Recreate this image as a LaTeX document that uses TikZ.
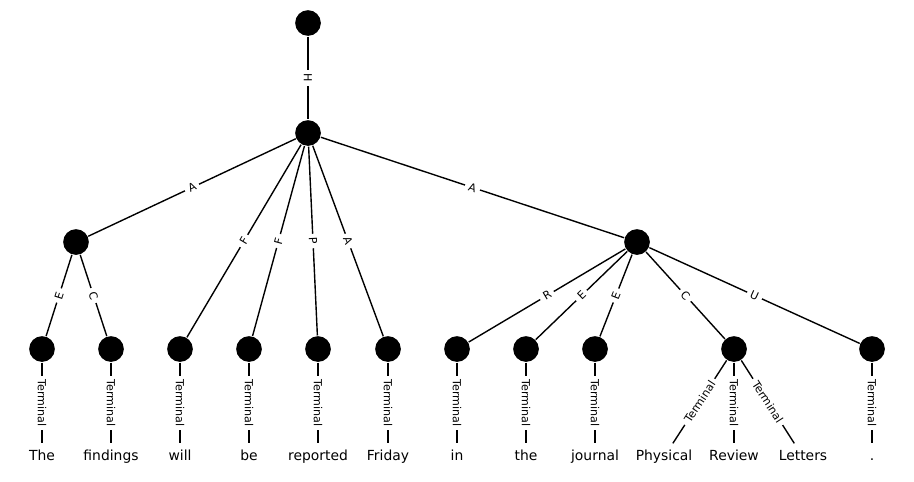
\documentclass[tikz,border=0pt]{standalone}
\usepackage{fontspec}
\setmainfont{DejaVu Sans}
\tikzset{
  vertex/.style={circle, fill=black, minimum size=18.5pt, inner sep=0pt},
  word/.style={font=\fontsize{10}{12}\selectfont, text height=7.5pt, text depth=2pt, inner xsep=2pt, inner ysep=4.6pt},
  tag/.style={font=\fontsize{8}{9.6}\selectfont, fill=white, inner xsep=2.8pt, inner ysep=0.5pt, sloped, midway},
}
\begin{document}
\begin{tikzpicture}[x=0.72pt, y=-0.72pt, line width=1pt]
  \useasboundingbox (0, 0) rectangle (914, 481);
  % Nodes
  \node (root) [vertex] at (308, 23) {};
  \node (clause) [vertex] at (308, 133) {};
  \node (part-0) [vertex] at (76, 242) {};
  \node (part-1) [vertex] at (637, 242) {};
  \node (leaf-0) [vertex] at (42, 349) {};
  \node (leaf-1) [vertex] at (111, 349) {};
  \node (leaf-2) [vertex] at (180, 349) {};
  \node (leaf-3) [vertex] at (249, 349) {};
  \node (leaf-4) [vertex] at (318, 349) {};
  \node (leaf-5) [vertex] at (388, 349) {};
  \node (leaf-6) [vertex] at (457, 349) {};
  \node (leaf-7) [vertex] at (526, 349) {};
  \node (leaf-8) [vertex] at (595, 349) {};
  \node (leaf-9) [vertex] at (734, 349) {};
  \node (leaf-10) [vertex] at (872, 349) {};
  % Words
  \node (word-0) [word] at (42, 457) {The};
  \node (word-1) [word] at (111, 457) {findings};
  \node (word-2) [word] at (180, 457) {will};
  \node (word-3) [word] at (249, 457) {be};
  \node (word-4) [word] at (318, 457) {reported};
  \node (word-5) [word] at (388, 457) {Friday};
  \node (word-6) [word] at (457, 457) {in};
  \node (word-7) [word] at (526, 457) {the};
  \node (word-8) [word] at (595, 457) {journal};
  \node (word-9) [word] at (664, 457) {Physical};
  \node (word-10) [word] at (734, 457) {Review};
  \node (word-11) [word] at (803, 457) {Letters};
  \node (word-12) [word] at (872, 457) {.};
  % Edges
  \draw (root) to node[tag] {H} (clause);
  \draw (clause) to node[tag] {A} (part-0);
  \draw (clause) to node[tag] {F} (leaf-2);
  \draw (clause) to node[tag] {F} (leaf-3);
  \draw (clause) to node[tag] {P} (leaf-4);
  \draw (clause) to node[tag] {A} (leaf-5);
  \draw (clause) to node[tag] {A} (part-1);
  \draw (part-0) to node[tag] {E} (leaf-0);
  \draw (part-0) to node[tag] {C} (leaf-1);
  \draw (part-1) to node[tag] {R} (leaf-6);
  \draw (part-1) to node[tag] {E} (leaf-7);
  \draw (part-1) to node[tag] {E} (leaf-8);
  \draw (part-1) to node[tag] {C} (leaf-9);
  \draw (part-1) to node[tag] {U} (leaf-10);
  % Terminals
  \draw (leaf-0) to node[tag] {Terminal} (word-0);
  \draw (leaf-1) to node[tag] {Terminal} (word-1);
  \draw (leaf-2) to node[tag] {Terminal} (word-2);
  \draw (leaf-3) to node[tag] {Terminal} (word-3);
  \draw (leaf-4) to node[tag] {Terminal} (word-4);
  \draw (leaf-5) to node[tag] {Terminal} (word-5);
  \draw (leaf-6) to node[tag] {Terminal} (word-6);
  \draw (leaf-7) to node[tag] {Terminal} (word-7);
  \draw (leaf-8) to node[tag] {Terminal} (word-8);
  \draw (leaf-9) to node[tag] {Terminal} (word-9);
  \draw (leaf-9) to node[tag] {Terminal} (word-10);
  \draw (leaf-9) to node[tag] {Terminal} (word-11);
  \draw (leaf-10) to node[tag] {Terminal} (word-12);
\end{tikzpicture}
\end{document}
